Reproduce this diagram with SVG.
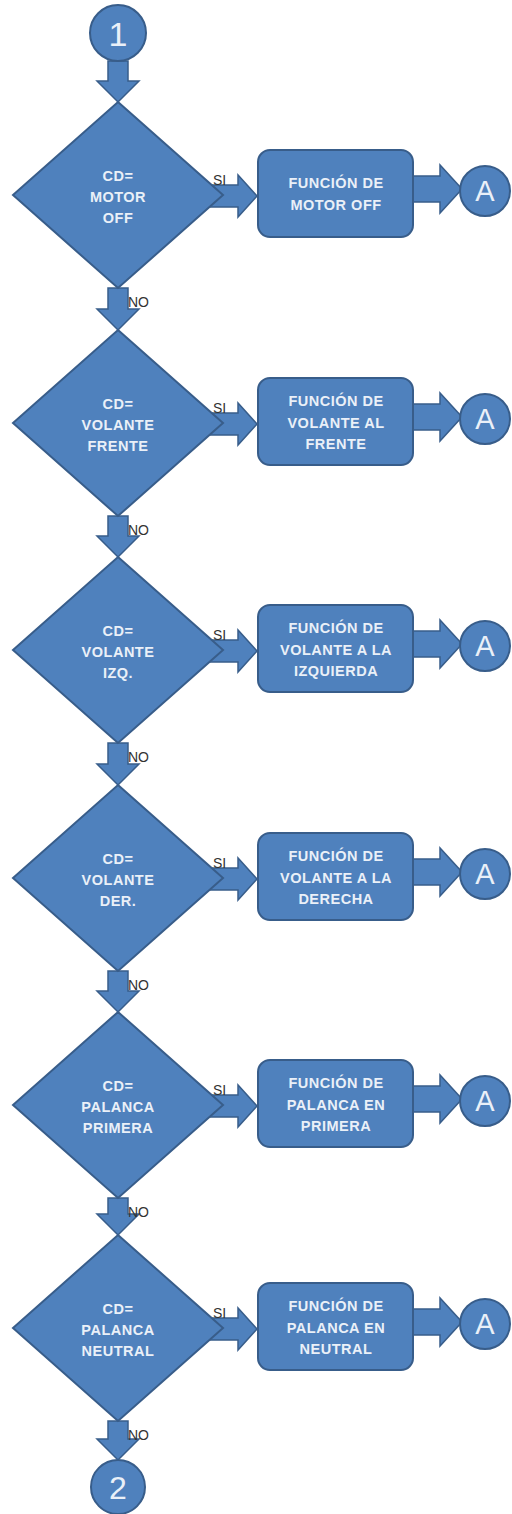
<svg xmlns="http://www.w3.org/2000/svg" width="512" height="1514" viewBox="0 0 512 1514">
<style>
.shape{fill:#4f81bd;stroke:#385d8a;stroke-width:2}
.arr{fill:#4f81bd;stroke:#385d8a;stroke-width:1.5}
.t{font-family:"Liberation Sans",Arial,sans-serif;font-weight:bold;font-size:14.5px;fill:#eaf0f8;text-anchor:middle;letter-spacing:0.5px}
.big{font-family:"Liberation Sans",Arial,sans-serif;fill:#eaf0f8;text-anchor:middle}
.lbl{font-family:"Liberation Sans",Arial,sans-serif;font-size:14px;fill:#333}
</style>
<rect width="512" height="1514" fill="#fff"/>
<g id="connectors">
<polygon class="arr" points="108,61 128,61 128,81 139,81 118,102 97,81 108,81"/>
<polygon class="arr" points="108,288 128,288 128,309 139,309 118,330 97,309 108,309"/>
<polygon class="arr" points="108,516 128,516 128,536 139,536 118,557 97,536 108,536"/>
<polygon class="arr" points="108,743 128,743 128,764 139,764 118,785 97,764 108,764"/>
<polygon class="arr" points="108,971 128,971 128,991 139,991 118,1012 97,991 108,991"/>
<polygon class="arr" points="108,1198 128,1198 128,1214 139,1214 118,1235 97,1214 108,1214"/>
<polygon class="arr" points="108,1421 128,1421 128,1439 139,1439 118,1460 97,1439 108,1439"/>
<g id="si-arrows">
<polygon class="arr" points="205,185 238,185 238,175 257,196 238,217 238,207 205,207"/>
<polygon class="arr" points="205,413 238,413 238,403 257,424 238,445 238,435 205,435"/>
<polygon class="arr" points="205,640 238,640 238,630 257,651 238,672 238,662 205,662"/>
<polygon class="arr" points="205,868 238,868 238,858 257,879 238,900 238,890 205,890"/>
<polygon class="arr" points="205,1095 238,1095 238,1085 257,1106 238,1127 238,1117 205,1117"/>
<polygon class="arr" points="205,1318 238,1318 238,1308 257,1329 238,1350 238,1340 205,1340"/>
</g>
<g id="a-arrows">
<polygon class="arr" points="413,176 440,176 440,165 462,189 440,213 440,202 413,202"/>
<polygon class="arr" points="413,404 440,404 440,393 462,417 440,441 440,430 413,430"/>
<polygon class="arr" points="413,631 440,631 440,620 462,644 440,668 440,657 413,657"/>
<polygon class="arr" points="413,859 440,859 440,848 462,872 440,896 440,885 413,885"/>
<polygon class="arr" points="413,1086 440,1086 440,1075 462,1099 440,1123 440,1112 413,1112"/>
<polygon class="arr" points="413,1309 440,1309 440,1298 462,1322 440,1346 440,1335 413,1335"/>
</g>
<g id="labels">
<text class="lbl" x="213" y="185">SI</text>
<text class="lbl" x="213" y="413">SI</text>
<text class="lbl" x="213" y="640">SI</text>
<text class="lbl" x="213" y="868">SI</text>
<text class="lbl" x="213" y="1095">SI</text>
<text class="lbl" x="213" y="1318">SI</text>
<text class="lbl" x="128" y="307">NO</text>
<text class="lbl" x="128" y="535">NO</text>
<text class="lbl" x="128" y="762">NO</text>
<text class="lbl" x="128" y="990">NO</text>
<text class="lbl" x="128" y="1217">NO</text>
<text class="lbl" x="128" y="1440">NO</text>
</g>
</g>
<g id="start">
<circle class="shape" cx="118" cy="33" r="28"/>
<text class="big" x="118" y="46" font-size="34">1</text>
</g>
<g id="end">
<circle class="shape" cx="118" cy="1487" r="27"/>
<text class="big" x="118" y="1499" font-size="32">2</text>
</g>
<g id="d1">
<polygon class="shape" points="118,102 223,195 118,288 13,195"/>
<text class="t" x="118" y="181">CD=</text>
<text class="t" x="118" y="202">MOTOR</text>
<text class="t" x="118" y="223">OFF</text>
</g>
<g id="b1">
<rect class="shape" x="258" y="150" width="155" height="87" rx="12"/>
<text class="t" x="336" y="188">FUNCIÓN DE</text>
<text class="t" x="336" y="210">MOTOR OFF</text>
</g>
<g id="a1"><circle class="shape" cx="485" cy="191" r="25"/><text class="big" x="485" y="201" font-size="29">A</text></g>
<g id="d2">
<polygon class="shape" points="118,330 223,423 118,516 13,423"/>
<text class="t" x="118" y="409">CD=</text>
<text class="t" x="118" y="430">VOLANTE</text>
<text class="t" x="118" y="451">FRENTE</text>
</g>
<g id="b2">
<rect class="shape" x="258" y="378" width="155" height="87" rx="12"/>
<text class="t" x="336" y="406">FUNCIÓN DE</text>
<text class="t" x="336" y="428">VOLANTE AL</text>
<text class="t" x="336" y="449">FRENTE</text>
</g>
<g id="a2"><circle class="shape" cx="485" cy="419" r="25"/><text class="big" x="485" y="429" font-size="29">A</text></g>
<g id="d3">
<polygon class="shape" points="118,557 223,650 118,743 13,650"/>
<text class="t" x="118" y="636">CD=</text>
<text class="t" x="118" y="657">VOLANTE</text>
<text class="t" x="118" y="678">IZQ.</text>
</g>
<g id="b3">
<rect class="shape" x="258" y="605" width="155" height="87" rx="12"/>
<text class="t" x="336" y="633">FUNCIÓN DE</text>
<text class="t" x="336" y="655">VOLANTE A LA</text>
<text class="t" x="336" y="676">IZQUIERDA</text>
</g>
<g id="a3"><circle class="shape" cx="485" cy="646" r="25"/><text class="big" x="485" y="656" font-size="29">A</text></g>
<g id="d4">
<polygon class="shape" points="118,785 223,878 118,971 13,878"/>
<text class="t" x="118" y="864">CD=</text>
<text class="t" x="118" y="885">VOLANTE</text>
<text class="t" x="118" y="906">DER.</text>
</g>
<g id="b4">
<rect class="shape" x="258" y="833" width="155" height="87" rx="12"/>
<text class="t" x="336" y="861">FUNCIÓN DE</text>
<text class="t" x="336" y="883">VOLANTE A LA</text>
<text class="t" x="336" y="904">DERECHA</text>
</g>
<g id="a4"><circle class="shape" cx="485" cy="874" r="25"/><text class="big" x="485" y="884" font-size="29">A</text></g>
<g id="d5">
<polygon class="shape" points="118,1012 223,1105 118,1198 13,1105"/>
<text class="t" x="118" y="1091">CD=</text>
<text class="t" x="118" y="1112">PALANCA</text>
<text class="t" x="118" y="1133">PRIMERA</text>
</g>
<g id="b5">
<rect class="shape" x="258" y="1060" width="155" height="87" rx="12"/>
<text class="t" x="336" y="1088">FUNCIÓN DE</text>
<text class="t" x="336" y="1110">PALANCA EN</text>
<text class="t" x="336" y="1131">PRIMERA</text>
</g>
<g id="a5"><circle class="shape" cx="485" cy="1101" r="25"/><text class="big" x="485" y="1111" font-size="29">A</text></g>
<g id="d6">
<polygon class="shape" points="118,1235 223,1328 118,1421 13,1328"/>
<text class="t" x="118" y="1314">CD=</text>
<text class="t" x="118" y="1335">PALANCA</text>
<text class="t" x="118" y="1356">NEUTRAL</text>
</g>
<g id="b6">
<rect class="shape" x="258" y="1283" width="155" height="87" rx="12"/>
<text class="t" x="336" y="1311">FUNCIÓN DE</text>
<text class="t" x="336" y="1333">PALANCA EN</text>
<text class="t" x="336" y="1354">NEUTRAL</text>
</g>
<g id="a6"><circle class="shape" cx="485" cy="1324" r="25"/><text class="big" x="485" y="1334" font-size="29">A</text></g>
</svg>
